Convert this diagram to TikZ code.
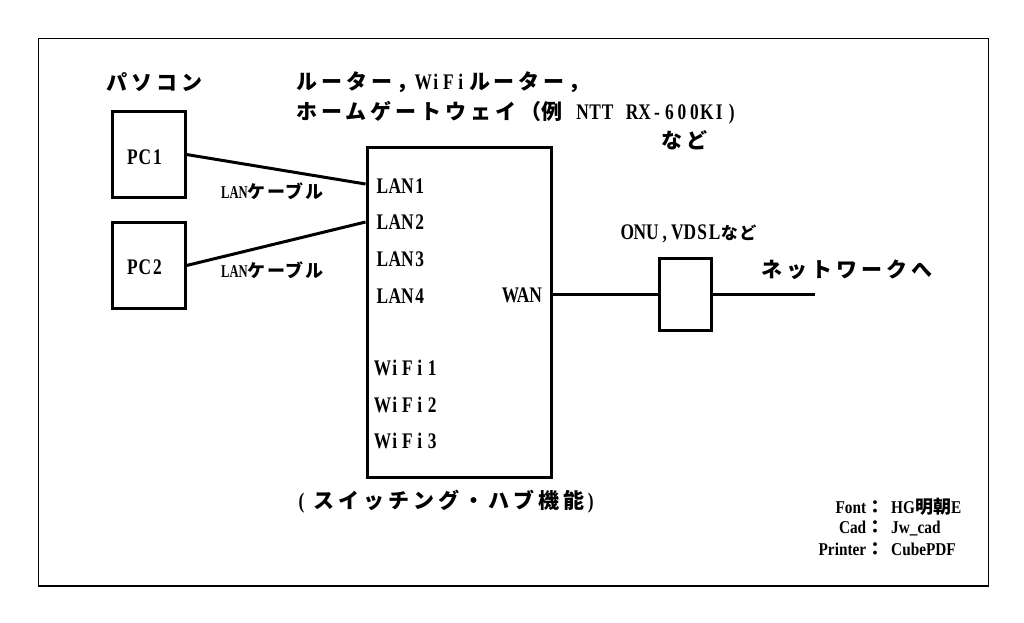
\documentclass[tikz,border=0pt]{standalone}
\usepackage{fontspec}
\newfontfamily\jp{Noto Sans CJK JP}[LetterSpace=19]
\newfontfamily\jpm{Noto Sans CJK JP}[LetterSpace=9]
\newfontfamily\jps{Noto Sans CJK JP}
\newfontfamily\lat{Liberation Serif}[FakeStretch=0.78, Scale=1.06]
\newfontfamily\lats{Liberation Serif}[FakeStretch=0.7]
\newfontfamily\latc{Liberation Serif}[FakeStretch=0.85]
\makeatletter
\newcommand\mono[1]{{\lat\@tfor\mch:=#1\do{\makebox[0.56em][c]{\mch}}}}
\makeatother
\begin{document}
\begin{tikzpicture}[x=1pt,y=-1pt,
  box/.style={draw, line width=3pt, inner sep=0pt},
  wire/.style={line width=3pt},
  lbl/.style={inner sep=0pt, anchor=west},
  big/.style={font=\fontsize{21}{24}\selectfont\bfseries},
  mid/.style={font=\fontsize{18}{20}\selectfont\bfseries},
  small/.style={font=\fontsize{18}{20}\selectfont\bfseries}]
\path[use as bounding box, fill=white] (0,0) rectangle (1024,622);
\draw[line width=1.3pt] (38.5,38.5) rectangle (988.5,586);

% titles
\node[lbl,big] (tpc) at (106,82) {\jp パソコン};
\node[lbl,big] (t1) at (296,82) {\jp ルーター，\mono{WiFi}\hspace{2pt}ルーター，};
\node[lbl,big] (t2) at (296,113) {\jp ホームゲートウェイ（{\jps 例}\hspace{14pt}\mono{NTT}\hspace{12pt}\mono{RX-600KI)}};
\node[lbl,big] (t3) at (661,140) {\jp など};

% PCs
\node[box, minimum width=73pt, minimum height=86pt] (pc1) at (148.5,154.5) {};
\node[inner sep=0pt,big] (pc1t) at (145,157) {\mono{PC1}};
\node[box, minimum width=73pt, minimum height=86pt] (pc2) at (148.5,265.5) {};
\node[inner sep=0pt,big] (pc2t) at (145,267) {\mono{PC2}};

% router
\node[box, minimum width=184pt, minimum height=330pt] (rt) at (459,312) {};
\node[lbl,big] (lan1) at (376,186) {\mono{LAN1}};
\node[lbl,big] (lan2) at (376,222) {\mono{LAN2}};
\node[lbl,big] (lan3) at (376,259) {\mono{LAN3}};
\node[lbl,big] (lan4) at (376,296) {\mono{LAN4}};
\node[inner sep=0pt,anchor=east,big] (wan) at (542,295) {\mono{WAN}};
\node[lbl,big] (w1) at (376,368) {\mono{WiFi1}};
\node[lbl,big] (w2) at (376,405) {\mono{WiFi2}};
\node[lbl,big] (w3) at (376,441) {\mono{WiFi3}};
\node[lbl,big] (hub) at (295,502) {\mono{(}\hspace{6pt}{\jp スイッチング・ハブ機能}\mono{)}};

% cables
\draw[wire] (pc1.east) -- (rt.west |- 0,184);
\draw[wire] (pc2.east) -- (rt.west |- lan2.west);
\node[lbl,mid] (c1) at (221,191) {\lats LAN\jpm ケーブル};
\node[lbl,mid] (c2) at (221,270) {\lats LAN\jpm ケーブル};

% ONU
\node[box, minimum width=52pt, minimum height=72pt] (onu) at (685,294) {};
\node[lbl,big] (onut) at (621,234) {\mono{ONU,VDSL}{\fontsize{17}{20}\selectfont\jpm など}};
\coordinate (net) at (815,294);
\draw[wire] (rt.east |- onu.west) -- (onu.west);
\draw[wire] (onu.east) -- (net);
\node[lbl,big] (nett) at (761,270) {\jp ネットワークへ};

% credits (aligned on the colon)
\node[lbl,small] (f1) at (866,507) {\llap{\latc Font}\jps ：\hspace{7pt}{\latc HG}明朝{\latc E}};
\node[lbl,small] (f2) at (866,528) {\llap{\latc Cad}\jps ：\hspace{7pt}{\latc Jw\_cad}};
\node[lbl,small] (f3) at (866,549) {\llap{\latc Printer}\jps ：\hspace{7pt}{\latc CubePDF}};
\end{tikzpicture}
\end{document}
